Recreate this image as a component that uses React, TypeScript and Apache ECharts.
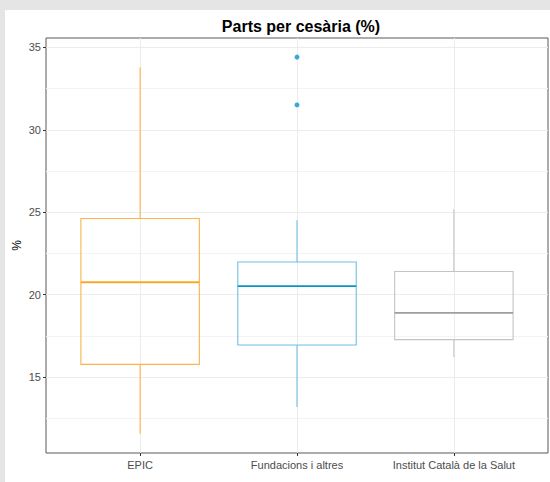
import React, { useEffect, useRef } from "react";
import * as echarts from "echarts";

// Categories and box statistics: [min, Q1, median, Q3, max]
const categories = ["EPIC", "Fundacions i altres", "Institut Català de la Salut"];
const boxStats = [
  [11.56, 15.77, 20.75, 24.62, 33.79],
  [13.18, 16.94, 20.51, 21.98, 24.51],
  [16.21, 17.27, 18.89, 21.4, 25.18],
];
// Outliers: [category index, value]
const outliers = [
  [1, 34.41],
  [1, 31.51],
];
const majorTicks = [15, 20, 25, 30, 35];
const minorTicks = [12.5, 17.5, 22.5, 27.5, 32.5];

const boxColors = ["#FBB44A", "#6FC0E0", "#C4C4C4"];
const medianColors = ["#F9A826", "#0A93C6", "#9E9E9E"];
const pointColor = "#0A93C6";

export default function App() {
  const ref = useRef<HTMLDivElement>(null);

  useEffect(() => {
    if (!ref.current) return;
    const chart = echarts.init(ref.current, undefined, { renderer: "svg" });

    const boxData = boxStats.map((s, i) => [i + 1, ...s]);
    const pointData = outliers.map(([c, v]) => [c + 1, v]);
    const font = "'Liberation Sans', Arial, sans-serif";

    chart.setOption({
      animation: false,
      backgroundColor: "#e5e5e5",
      graphic: [
        {
          type: "rect",
          shape: { x: 5, y: 10, width: 545, height: 472 },
          style: { fill: "#ffffff" },
          z: -10,
          silent: true,
        },
      ],
      title: {
        text: "Parts per cesària (%)",
        left: 296,
        textAlign: "center",
        top: 13,
        textStyle: { fontFamily: font, fontSize: 16, fontWeight: "bold", color: "#000" },
      },
      grid: {
        left: 46,
        right: 2,
        top: 38,
        bottom: 29,
        show: true,
        borderColor: "#595959",
        borderWidth: 1,
        backgroundColor: "transparent",
      },
      xAxis: {
        type: "value",
        min: 0.4,
        max: 3.6,
        axisLine: { show: false },
        axisTick: { show: true, customValues: [1, 2, 3], length: 3, lineStyle: { color: "#333" } },
        axisLabel: {
          customValues: [1, 2, 3],
          formatter: (v: number) => categories[Math.round(v) - 1] ?? "",
          color: "#4d4d4d",
          fontSize: 11,
          fontFamily: font,
          margin: 6,
        },
        splitLine: { show: true, lineStyle: { color: "#ececec", width: 1 } },
      },
      yAxis: [
        {
          type: "value",
          min: 10.39,
          max: 35.57,
          name: "%",
          nameLocation: "middle",
          nameRotate: 90,
          nameGap: 23,
          nameMoveOverlap: false,
          nameTextStyle: { color: "#000", fontSize: 12, fontFamily: font },
          axisLine: { show: false },
          axisTick: { show: true, customValues: majorTicks, length: 3, lineStyle: { color: "#333" } },
          axisLabel: {
            customValues: majorTicks,
            color: "#4d4d4d",
            fontSize: 11,
            fontFamily: font,
            margin: 5,
          },
          splitLine: { show: true, lineStyle: { color: "#ececec", width: 1 } },
        },
        {
          type: "value",
          min: 10.39,
          max: 35.57,
          position: "left",
          axisLine: { show: false },
          axisTick: { show: false, customValues: minorTicks },
          axisLabel: { show: false, customValues: minorTicks },
          splitLine: { show: true, lineStyle: { color: "#f3f3f3", width: 1 } },
        },
      ],
      series: [
        {
          type: "custom",
          xAxisIndex: 0,
          yAxisIndex: 0,
          data: boxData,
          encode: { x: 0, y: [1, 2, 3, 4, 5] },
          renderItem: (params: any, api: any) => {
            const idx = params.dataIndex;
            const x = api.value(0);
            const lo = api.coord([x, api.value(1)]);
            const q1 = api.coord([x, api.value(2)]);
            const med = api.coord([x, api.value(3)]);
            const q3 = api.coord([x, api.value(4)]);
            const hi = api.coord([x, api.value(5)]);
            const half = api.size([0.755, 0])[0] / 2;
            const cx = lo[0];
            const c = boxColors[idx];
            const line = { stroke: c, lineWidth: 1.1 };
            return {
              type: "group",
              children: [
                { type: "line", shape: { x1: cx, y1: hi[1], x2: cx, y2: q3[1] }, style: line },
                { type: "line", shape: { x1: cx, y1: q1[1], x2: cx, y2: lo[1] }, style: line },
                {
                  type: "rect",
                  shape: { x: cx - half, y: q3[1], width: half * 2, height: q1[1] - q3[1] },
                  style: { fill: "none", stroke: c, lineWidth: 1.1 },
                },
                {
                  type: "line",
                  shape: { x1: cx - half, y1: med[1], x2: cx + half, y2: med[1] },
                  style: { stroke: medianColors[idx], lineWidth: 1.8 },
                },
              ],
            };
          },
          z: 5,
        },
        {
          type: "scatter",
          data: pointData,
          symbol: "circle",
          symbolSize: 5,
          itemStyle: { color: pointColor },
          z: 6,
        },
      ],
    });

    return () => chart.dispose();
  }, []);

  return (
    <div
      ref={ref}
      style={{ position: "fixed", left: 0, top: 0, width: 550, height: 482 }}
    />
  );
}
